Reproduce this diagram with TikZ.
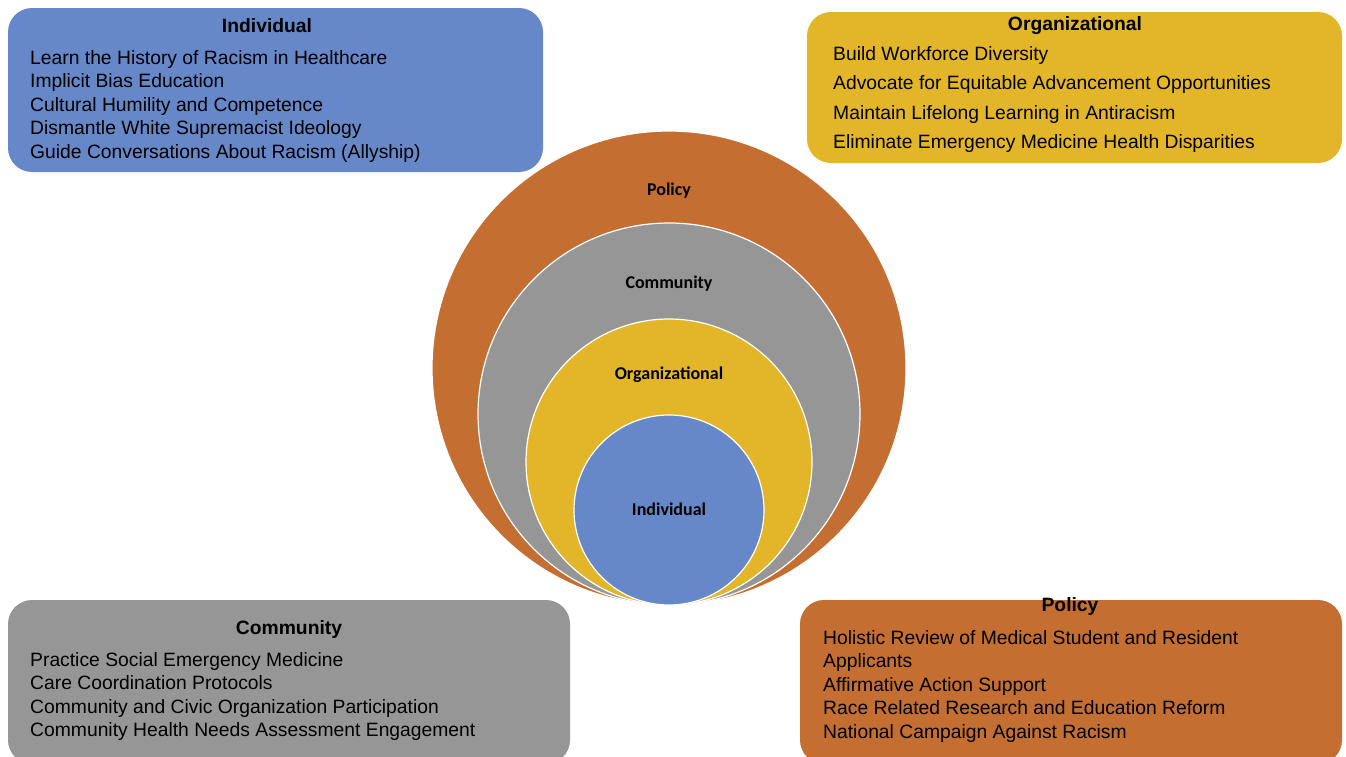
\documentclass[tikz,border=0pt]{standalone}
\usepackage{fontspec}
\setmainfont{Liberation Sans}
\newfontfamily\calib{Carlito}
\definecolor{cblue}{RGB}{102,135,200}
\definecolor{cgray}{RGB}{150,150,150}
\definecolor{cyellow}{RGB}{227,182,42}
\definecolor{corange}{RGB}{196,110,50}
\begin{document}
\begin{tikzpicture}[x=1pt,y=-1pt,
  boxshape/.style={rounded corners=24pt, draw=none},
  ring/.style={circle, draw=white, line width=1.2pt, inner sep=0pt},
  ringlabel/.style={font=\calib\bfseries\fontsize{18}{21}\selectfont, inner sep=0pt},
  boxtitle/.style={font=\bfseries\fontsize{19.3}{23}\selectfont, inner sep=0pt},
  items/.style={align=left, anchor=north west, inner sep=0pt, font=\fontsize{19.3}{23.5}\selectfont},
  itemswide/.style={align=left, anchor=north west, inner sep=0pt, font=\fontsize{19.3}{29.5}\selectfont}]
\useasboundingbox[fill=white] (0,0) rectangle (1346,756);

% boxes
\fill[cblue, boxshape] (8,8) rectangle (543,172);
\fill[cyellow, boxshape] (807,12) rectangle (1342,163);
\fill[cgray, boxshape] (8,600) rectangle (570,764);
\fill[corange, boxshape] (800,600) rectangle (1342,764);

% circles
\node[ring, fill=corange, minimum size=474pt] (cpol) at (669,368) {};
\node[ring, fill=cgray, minimum size=382pt] (ccom) at (669,414) {};
\node[ring, fill=cyellow, minimum size=286pt] (corg) at (669,462) {};
\node[ring, fill=cblue, minimum size=190pt] (cind) at (669,510) {};

\node[ringlabel] (lpol) at (669,191) {Policy};
\node[ringlabel] (lcom) at (669,284) {Community};
\node[ringlabel] (lorg) at (669,375) {Organizational};
\node[ringlabel] (lind) at (669,509) {Individual};

% Individual box
\node[boxtitle] (tind) at (267,26) {Individual};
\node[items] (iind) at (30,50) {Learn the History of Racism in Healthcare\\
Implicit Bias Education\\
Cultural Humility and Competence\\
Dismantle White Supremacist Ideology\\
Guide Conversations About Racism (Allyship)};

% Organizational box
\node[boxtitle] (torg) at (1075,26) {Organizational};
\node[itemswide] (iorg) at (833,46) {Build Workforce Diversity\\
Advocate for Equitable Advancement Opportunities\\
Maintain Lifelong Learning in Antiracism\\
Eliminate Emergency Medicine Health Disparities};

% Community box
\node[boxtitle] (tcom) at (289,629) {Community};
\node[items] (icom) at (30,652) {Practice Social Emergency Medicine\\
Care Coordination Protocols\\
Community and Civic Organization Participation\\
Community Health Needs Assessment Engagement};

% Policy box
\node[boxtitle] (tpol) at (1070,606) {Policy};
\node[items] (ipol) at (823,630) {Holistic Review of Medical Student and Resident\\
Applicants\\
Affirmative Action Support\\
Race Related Research and Education Reform\\
National Campaign Against Racism};
\end{tikzpicture}
\end{document}
